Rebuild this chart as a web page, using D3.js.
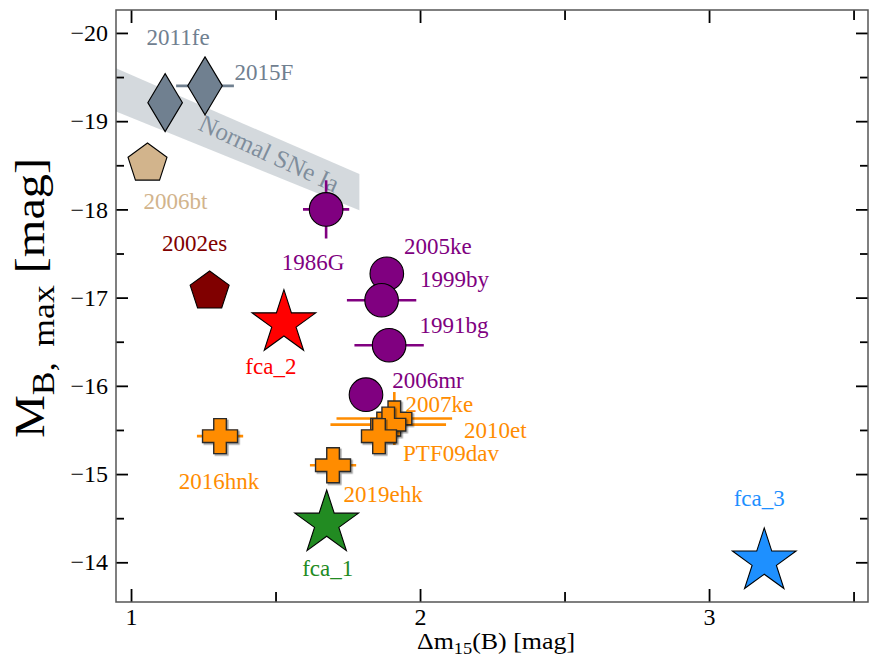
<!DOCTYPE html>
<html>
<head>
<meta charset="utf-8">
<script src="https://cdn.jsdelivr.net/npm/d3@7/dist/d3.min.js"></script>
<style>
  html, body { margin: 0; padding: 0; background: #ffffff; }
  svg { display: block; }
  svg text { font-family: "Liberation Serif", "DejaVu Serif", serif; }
</style>
</head>
<body>
<svg id="chart" width="870" height="660"></svg>
<script>
// ---- data -------------------------------------------------------------
const snNames = ["2011fe", "2015F", "2006bt", "2002es", "1986G", "2005ke", "1999by",
                 "1991bg", "2006mr", "2007ke", "2010et", "PTF09dav", "2019ehk",
                 "2016hnk", "fca_1", "fca_2", "fca_3"];
const dm15    = [1.118, 1.256, 1.057, 1.272, 1.675, 1.885, 1.867,
                 1.893, 1.813, 1.911, 1.890, 1.858, 1.699,
                 1.308, 1.677, 1.529, 3.191];
const mBmax   = [-19.21, -19.40, -18.52, -17.07, -18.00, -17.27, -16.97,
                 -16.46, -15.90, -15.63, -15.56, -15.43, -15.10,
                 -15.43, -14.44, -16.71, -14.01];
const dm15Err = [0, 0.10, 0, 0, 0.08, 0, 0.12,
                 0.12, 0, 0.20, 0.20, 0, 0.08,
                 0.08, 0, 0, 0];
const mBErr   = [0, 0, 0, 0, 0.33, 0, 0,
                 0, 0, 0.30, 0, 0, 0,
                 0, 0, 0, 0];
const snClass = ["normal", "normal", "bt", "es", "bg", "bg", "bg",
                 "bg", "bg", "ca", "ca", "ca", "ca",
                 "ca", "fca1", "fca2", "fca3"];

// Phillips-relation band for normal SNe Ia
const bandX     = [0.948, 1.79];
const bandUpper = [-19.60, -18.40];
const bandLower = [-19.11, -17.99];
const bandLabel = "Normal SNe Ia";

const xMajorTicks = [1, 2, 3];
const xMinorTicks = [1.5, 2.5, 3.5];
const yMajorTicks = [-20, -19, -18, -17, -16, -15, -14];
const yMinorTicks = [-19.5, -18.5, -17.5, -16.5, -15.5, -14.5];

// ---- styling ----------------------------------------------------------
const FONT = "Liberation Serif, DejaVu Serif, serif";
const classStyle = {
  normal: { color: "#708090", marker: "diamond" },
  bt:     { color: "#D2B48C", marker: "pentagon" },
  es:     { color: "#800000", marker: "pentagon" },
  bg:     { color: "#800080", marker: "circle" },
  ca:     { color: "#FF8C00", marker: "plus" },
  fca1:   { color: "#228B22", marker: "star" },
  fca2:   { color: "#FF0000", marker: "star" },
  fca3:   { color: "#1E90FF", marker: "star" }
};

// label placement relative to each marker (pixels)
const labelOffset = {
  "2011fe": [13, -58], "2015F": [59, -6], "2006bt": [28, 45], "2002es": [-15, -40],
  "1986G": [-13, 61], "2005ke": [51, -20], "1999by": [73, -13], "1991bg": [65, -12],
  "2006mr": [62, -7], "2007ke": [45, -6], "2010et": [107, 13], "PTF09dav": [72, 25],
  "2019ehk": [50, 37], "2016hnk": [-1, 53], "fca_1": [1, 53], "fca_2": [-13, 51],
  "fca_3": [-5, -55]
};

const W = 870, H = 660;
const margin = { top: 10, right: 2, bottom: 58, left: 116 };

const svg = d3.select("#chart");

const x = d3.scaleLinear().domain([0.948, 3.55]).range([margin.left, W - margin.right]);
const y = d3.scaleLinear().domain([-20.26, -13.55]).range([margin.top, H - margin.bottom]);

const defs = svg.append("defs");
defs.append("clipPath").attr("id", "plotClip")
  .append("rect")
  .attr("x", margin.left).attr("y", margin.top)
  .attr("width", W - margin.left - margin.right)
  .attr("height", H - margin.top - margin.bottom);

const shadow = defs.append("filter").attr("id", "shadow")
  .attr("x", "-30%").attr("y", "-30%").attr("width", "160%").attr("height", "160%");
shadow.append("feDropShadow")
  .attr("dx", 1.6).attr("dy", 1.6).attr("stdDeviation", 0.6)
  .attr("flood-color", "#000").attr("flood-opacity", 0.35);

const plot = svg.append("g").attr("clip-path", "url(#plotClip)");

// ---- normal SN Ia band --------------------------------------------------
const bandPts = bandX.map((v, i) => [x(v), y(bandUpper[i])])
  .concat(bandX.map((v, i) => [x(v), y(bandLower[i])]).reverse());
plot.append("path")
  .attr("d", d3.line()(bandPts) + "Z")
  .attr("fill", "#708090").attr("fill-opacity", 0.3).attr("stroke", "none");

const bx0 = x(bandX[0]), bx1 = x(bandX[1]);
const bMid0 = (y(bandUpper[0]) + y(bandLower[0])) / 2;
const bMid1 = (y(bandUpper[1]) + y(bandLower[1])) / 2;
const bandAngle = Math.atan2(bMid1 - bMid0, bx1 - bx0) * 180 / Math.PI;
const tx = bx0 + 0.63 * (bx1 - bx0);
const ty = bMid0 + 0.63 * (bMid1 - bMid0) - 1;
plot.append("text")
  .attr("transform", `translate(${tx},${ty}) rotate(${bandAngle + 2})`)
  .attr("text-anchor", "middle").attr("dominant-baseline", "central")
  .attr("font-family", FONT)
  .attr("font-size", 25).attr("fill", "#708090").attr("fill-opacity", 0.85)
  .text(bandLabel);

// ---- marker shapes ------------------------------------------------------
function polyPath(pts) { return "M" + pts.map(p => p[0].toFixed(2) + "," + p[1].toFixed(2)).join("L") + "Z"; }
function markerPath(kind) {
  if (kind === "circle") return d3.arc()({ innerRadius: 0, outerRadius: 16.8, startAngle: 0, endAngle: 2 * Math.PI });
  if (kind === "diamond") return polyPath([[0, -29], [17.3, 0], [0, 29], [-17.3, 0]]);
  if (kind === "pentagon") {
    const R = 20.5;
    return polyPath(d3.range(5).map(i => {
      const a = -Math.PI / 2 + i * 2 * Math.PI / 5;
      return [R * Math.cos(a), R * Math.sin(a)];
    }));
  }
  if (kind === "star") {
    const R = 33.5, r = R * 0.381966;
    return polyPath(d3.range(10).map(i => {
      const a = -Math.PI / 2 + i * Math.PI / 5;
      const rr = i % 2 === 0 ? R : r;
      return [rr * Math.cos(a), rr * Math.sin(a)];
    }));
  }
  if (kind === "plus") {
    const s = 17.5, a = 6.3;
    return polyPath([[-a, -s], [a, -s], [a, -a], [s, -a], [s, a], [a, a], [a, s],
                     [-a, s], [-a, a], [-s, a], [-s, -a], [-a, -a]]);
  }
}

const rows = snNames.map((n, i) => ({
  name: n, dm: dm15[i], mb: mBmax[i], xe: dm15Err[i], ye: mBErr[i],
  style: classStyle[snClass[i]]
}));

// ---- error bars ---------------------------------------------------------
const errG = plot.append("g");
rows.forEach(d => {
  if (d.xe > 0) {
    errG.append("line")
      .attr("x1", x(d.dm - d.xe)).attr("x2", x(d.dm + d.xe))
      .attr("y1", y(d.mb)).attr("y2", y(d.mb))
      .attr("stroke", d.style.color).attr("stroke-width", 2.6);
  }
  if (d.ye > 0) {
    errG.append("line")
      .attr("x1", x(d.dm)).attr("x2", x(d.dm))
      .attr("y1", y(d.mb - d.ye)).attr("y2", y(d.mb + d.ye))
      .attr("stroke", d.style.color).attr("stroke-width", 2.6);
  }
});

// ---- markers ------------------------------------------------------------
plot.append("g").selectAll("path.marker")
  .data(rows)
  .join("path")
  .attr("class", "marker")
  .attr("transform", d => `translate(${x(d.dm)},${y(d.mb)})`)
  .attr("d", d => markerPath(d.style.marker))
  .attr("fill", d => d.style.color)
  .attr("stroke", d => d.style.marker === "plus" ? "#2a2a2a" : "#000")
  .attr("stroke-width", d => d.style.marker === "plus" ? 1.4 : 1.1)
  .attr("stroke-linejoin", "miter")
  .attr("filter", d => d.style.marker === "plus" ? "url(#shadow)" : null);

// ---- labels -------------------------------------------------------------
svg.append("g").selectAll("text.snlabel")
  .data(rows)
  .join("text")
  .attr("class", "snlabel")
  .attr("x", d => x(d.dm) + labelOffset[d.name][0])
  .attr("y", d => y(d.mb) + labelOffset[d.name][1])
  .attr("text-anchor", "middle")
  .attr("font-family", FONT)
  .attr("font-size", 23)
  .attr("fill", d => d.style.color)
  .text(d => d.name);

// ---- axes ---------------------------------------------------------------
const axisFont = 24;
function styleAxis(g) {
  g.attr("font-family", FONT);
  g.select(".domain").remove();
  g.selectAll(".tick line").attr("stroke", "#000").attr("stroke-width", 1.8);
  g.selectAll(".tick text").attr("font-family", FONT)
    .attr("font-size", axisFont).attr("fill", "#000");
}
const fmtY = d3.format("d");
const bottomY = H - margin.bottom, rightX = W - margin.right;

svg.append("g").attr("transform", `translate(0,${bottomY})`)
  .call(d3.axisBottom(x).tickValues(xMajorTicks).tickSize(-13).tickPadding(6).tickFormat(d3.format("d")))
  .call(styleAxis);
svg.append("g").attr("transform", `translate(0,${bottomY})`)
  .call(d3.axisBottom(x).tickValues(xMinorTicks).tickSize(-10).tickFormat(""))
  .call(styleAxis);
svg.append("g").attr("transform", `translate(0,${margin.top})`)
  .call(d3.axisTop(x).tickValues(xMajorTicks).tickSize(-13).tickFormat(""))
  .call(styleAxis);
svg.append("g").attr("transform", `translate(0,${margin.top})`)
  .call(d3.axisTop(x).tickValues(xMinorTicks).tickSize(-10).tickFormat(""))
  .call(styleAxis);

svg.append("g").attr("transform", `translate(${margin.left},0)`)
  .call(d3.axisLeft(y).tickValues(yMajorTicks).tickSize(-12).tickPadding(8).tickFormat(fmtY))
  .call(styleAxis);
svg.append("g").attr("transform", `translate(${margin.left},0)`)
  .call(d3.axisLeft(y).tickValues(yMinorTicks).tickSize(-8).tickFormat(""))
  .call(styleAxis);
svg.append("g").attr("transform", `translate(${rightX},0)`)
  .call(d3.axisRight(y).tickValues(yMajorTicks).tickSize(-12).tickFormat(""))
  .call(styleAxis);
svg.append("g").attr("transform", `translate(${rightX},0)`)
  .call(d3.axisRight(y).tickValues(yMinorTicks).tickSize(-8).tickFormat(""))
  .call(styleAxis);

// frame
svg.append("rect")
  .attr("x", margin.left).attr("y", margin.top)
  .attr("width", W - margin.left - margin.right)
  .attr("height", H - margin.top - margin.bottom)
  .attr("fill", "none").attr("stroke", "#555").attr("stroke-width", 1.5);

// axis titles
const xTitle = svg.append("text")
  .attr("transform", `translate(${(margin.left + rightX) / 2 + 4},649) scale(1.08,1)`)
  .attr("text-anchor", "middle").attr("font-family", FONT)
  .attr("font-size", 24).attr("fill", "#000");
xTitle.append("tspan").text("Δm");
xTitle.append("tspan").attr("font-size", 17).attr("dy", 5).text("15");
xTitle.append("tspan").attr("dy", -5).text("(B) [mag]");

const yTitle = svg.append("text")
  .attr("transform", `translate(44,${(margin.top + bottomY) / 2 - 8}) rotate(-90) scale(1.15,1)`)
  .attr("text-anchor", "middle").attr("font-family", FONT)
  .attr("font-size", 42).attr("fill", "#000");
yTitle.append("tspan").text("M");
yTitle.append("tspan").attr("font-size", 31).attr("dy", 10).attr("word-spacing", 6).text("B, max");
yTitle.append("tspan").attr("dy", -10).text(" [mag]");
</script>
</body>
</html>
